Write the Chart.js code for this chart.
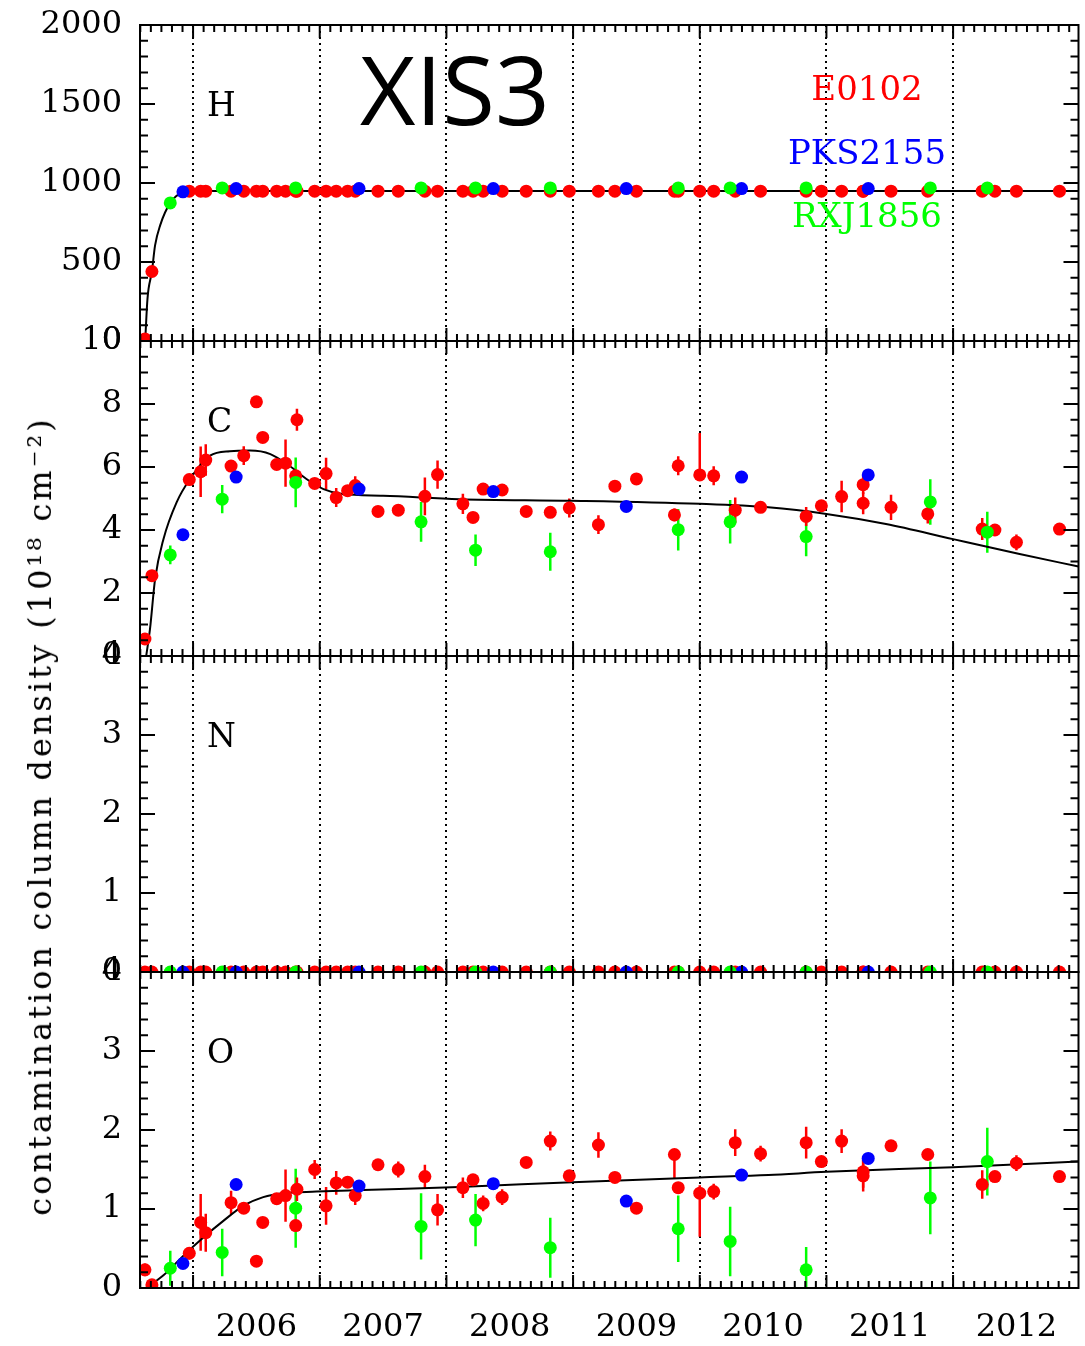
<!DOCTYPE html>
<html lang="en">
  <head>
    <meta charset="UTF-8" />
    <title>XIS3 contamination</title>
    <script src="https://cdn.jsdelivr.net/npm/chart.js"></script>
    <style>
      html,
      body {
        margin: 0;
        padding: 0;
        background: #fff;
        overflow: hidden;
      }
      body {
        position: relative;
        width: 1085px;
        height: 1346px;
        font-family: "DejaVu Serif", serif;
      }
      .painel {
        position: absolute;
        left: 0;
        width: 1085px;
      }
      .txt {
        position: absolute;
        white-space: nowrap;
        line-height: 1;
      }
      .letra {
        left: 207px;
        font-size: 33px;
        transform: translateY(-50%);
      }
      .fonte {
        left: 867px;
        font-size: 34px;
        transform: translate(-50%, -50%);
      }
    </style>
  </head>
  <body>
    <div class="painel" style="top: -5px; height: 376px"><canvas id="gH"></canvas></div>
    <div class="painel" style="top: 311px; height: 375px"><canvas id="gC"></canvas></div>
    <div class="painel" style="top: 626px; height: 376px"><canvas id="gN"></canvas></div>
    <div class="painel" style="top: 942px; height: 406px"><canvas id="gO"></canvas></div>

    <div class="txt" style="left: 360px; top: 88px; font-family: 'Open Sans'; font-size: 96px; transform: translateY(-50%)">XIS3</div>
    <div class="txt fonte" style="top: 88px; color: #ff0000">E0102</div>
    <div class="txt fonte" style="top: 152px; color: #0000ff">PKS2155</div>
    <div class="txt fonte" style="top: 215px; color: #00ff00">RXJ1856</div>

    <div class="txt letra" style="top: 104px">H</div>
    <div class="txt letra" style="top: 420px">C</div>
    <div class="txt letra" style="top: 735px">N</div>
    <div class="txt letra" style="top: 1051px">O</div>

    <div class="txt" style="left: 40px; top: 816px; font-size: 32px; letter-spacing: 3px; transform: translate(-50%, -50%) rotate(-90deg)">
      contamination column density (10¹⁸ cm⁻²)
    </div>

    <script>
      // eixo x (anos) - rótulos centrados no meio de cada ano
      const anosX = [2006.5, 2007.5, 2008.5, 2009.5, 2010.5, 2011.5, 2012.5];
      const rotulosX = ["2006", "2007", "2008", "2009", "2010", "2011", "2012"];

      // E0102 (vermelho)
      const e0102T = [2005.62, 2005.675, 2005.97, 2006.06, 2006.1, 2006.3, 2006.4, 2006.5, 2006.55, 2006.66, 2006.73, 2006.82, 2006.81, 2006.96, 2007.05, 2007.13, 2007.22, 2007.28, 2007.46, 2007.62, 2007.83, 2007.93, 2008.13, 2008.21, 2008.29, 2008.44, 2008.63, 2008.82, 2008.97, 2009.2, 2009.33, 2009.5, 2009.8, 2009.83, 2010.0, 2010.11, 2010.28, 2010.48, 2010.84, 2010.96, 2011.12, 2011.29, 2011.29, 2011.51, 2011.8, 2012.23, 2012.33, 2012.5, 2012.84];
      const e0102H = [13, 440, 948, 948, 948, 948, 948, 948, 948, 948, 948, 948, 948, 948, 948, 948, 948, 948, 948, 948, 948, 948, 948, 948, 948, 948, 948, 948, 948, 948, 948, 948, 948, 948, 948, 948, 948, 948, 948, 948, 948, 948, 948, 948, 948, 948, 948, 948, 948];
      const e0102C = [0.54, 2.55, 5.6, 5.85, 6.22, 6.03, 6.36, 8.07, 6.94, 6.08, 6.12, 7.5, 5.72, 5.48, 5.79, 5.03, 5.25, 5.41, 4.59, 4.63, 5.07, 5.76, 4.83, 4.4, 5.3, 5.27, 4.59, 4.56, 4.7, 4.17, 5.39, 5.62, 4.48, 6.04, 5.75, 5.72, 4.63, 4.72, 4.43, 4.77, 5.06, 5.44, 4.85, 4.72, 4.51, 4.03, 4.0, 3.61, 4.03];
      const e0102CErr = [0.15, 0.15, 0.1, 0.8, 0.5, 0.15, 0.3, 0.1, 0.1, 0.1, 0.75, 0.35, 0.1, 0.1, 0.5, 0.3, 0.1, 0.3, 0.1, 0.1, 0.6, 0.45, 0.32, 0.1, 0.1, 0.1, 0.1, 0.1, 0.3, 0.3, 0.1, 0.1, 0.2, 0.3, [0.1, 1.33], 0.3, 0.4, 0.1, 0.3, 0.1, 0.5, 0.3, 0.35, 0.4, 0.3, 0.35, 0.1, 0.25, 0.1];
      const e0102N = [0, 0, 0, 0, 0, 0, 0, 0, 0, 0, 0, 0, 0, 0, 0, 0, 0, 0, 0, 0, 0, 0, 0, 0, 0, 0, 0, 0, 0, 0, 0, 0, 0, 0, 0, 0, 0, 0, 0, 0, 0, 0, 0, 0, 0, 0, 0, 0, 0];
      const e0102O = [0.23, 0.04, 0.44, 0.83, 0.7, 1.08, 1.01, 0.34, 0.83, 1.13, 1.17, 1.25, 0.79, 1.5, 1.04, 1.33, 1.34, 1.17, 1.56, 1.5, 1.41, 0.99, 1.27, 1.37, 1.07, 1.15, 1.59, 1.86, 1.42, 1.81, 1.4, 1.01, 1.69, 1.27, 1.2, 1.22, 1.84, 1.7, 1.84, 1.6, 1.86, 1.47, 1.42, 1.8, 1.69, 1.31, 1.41, 1.58, 1.41];
      const e0102OErr = [0.08, 0.05, 0.08, 0.36, 0.24, 0.15, 0.05, 0.05, 0.05, 0.05, 0.33, 0.15, 0.05, 0.12, 0.24, 0.15, 0.05, 0.12, 0.05, 0.1, 0.15, 0.2, 0.13, 0.05, 0.1, 0.1, 0.05, 0.12, 0.05, 0.16, 0.05, 0.05, [0.3, 0.05], 0.05, [0.55, 0.1], 0.1, 0.17, 0.1, 0.2, 0.05, 0.15, 0.2, 0.2, 0.05, 0.05, 0.18, 0.05, 0.1, 0.05];

      // PKS2155 (azul)
      const pks2155T = [2005.92, 2006.34, 2007.31, 2008.37, 2009.42, 2010.33, 2011.33];
      const pks2155H = [944, 965, 965, 965, 965, 965, 965];
      const pks2155C = [3.85, 5.68, 5.3, 5.22, 4.75, 5.68, 5.75];
      const pks2155N = [0, 0, 0, 0, 0, 0, 0];
      const pks2155O = [0.31, 1.31, 1.29, 1.32, 1.1, 1.43, 1.64];

      // RXJ1856 (verde)
      const rxj1856T = [2005.82, 2006.23, 2006.81, 2007.8, 2008.23, 2008.82, 2009.83, 2010.24, 2010.84, 2011.82, 2012.27];
      const rxj1856H = [874, 969, 969, 969, 969, 969, 969, 969, 969, 969, 969];
      const rxj1856C = [3.21, 4.98, 5.51, 4.26, 3.36, 3.31, 4.01, 4.26, 3.79, 4.89, 3.93];
      const rxj1856CErr = [0.3, 0.45, 0.79, 0.63, 0.5, 0.6, 0.66, 0.69, 0.62, 0.72, 0.65];
      const rxj1856N = [0, 0, 0, 0, 0, 0, 0, 0, 0, 0, 0];
      const rxj1856O = [0.25, 0.45, 1.01, 0.78, 0.86, 0.51, 0.75, 0.59, 0.23, 1.14, 1.6];
      const rxj1856OErr = [0.22, 0.3, 0.5, 0.42, 0.33, 0.38, 0.42, 0.44, 0.29, 0.46, 0.43];

      // curvas do modelo (linha preta)
      const curvaHT = [2005.622, 2005.64, 2005.675, 2005.7, 2005.74, 2005.82, 2005.92, 2006.06, 2012.99];
      const curvaHV = [0, 267, 440, 605, 732, 874, 940, 950, 950];
      const curvaCT = [2005.63, 2005.66, 2005.7, 2005.766, 2005.87, 2005.976, 2006.134, 2006.29, 2006.45, 2006.61, 2006.76, 2006.895, 2007.03, 2007.18, 2007.5, 2008.1, 2008.99, 2010.0, 2010.54, 2011.0, 2011.47, 2012.0, 2012.525, 2012.99];
      const curvaCV = [0, 0.86, 2.44, 3.71, 4.88, 5.62, 6.36, 6.5, 6.52, 6.41, 6.04, 5.62, 5.3, 5.14, 5.09, 4.98, 4.93, 4.83, 4.72, 4.51, 4.19, 3.71, 3.24, 2.84];
      const curvaNT = [2005.581, 2012.99];
      const curvaNV = [0, 0];
      const curvaOT = [2005.65, 2005.766, 2005.924, 2006.081, 2006.239, 2006.396, 2006.554, 2006.711, 2006.974, 2007.341, 2008.102, 2008.994, 2010.0, 2010.543, 2011.0, 2012.0, 2012.99];
      const curvaOV = [0.02, 0.16, 0.41, 0.64, 0.85, 1.04, 1.15, 1.2, 1.22, 1.24, 1.28, 1.34, 1.4, 1.43, 1.47, 1.53, 1.6];

      const VERMELHO = "#ff0000";
      const AZUL = "#0000ff";
      const VERDE = "#00ff00";
      const fonteEixo = { family: "DejaVu Serif", size: 32 };

      function pontos(t, v) {
        return t.map((ti, i) => ({ x: ti, y: v[i] }));
      }

      // moldura, marcas internas, linhas pontilhadas e barras de erro
      const molduraPlugin = {
        id: "moldura",
        beforeDatasetsDraw(chart) {
          const { ctx, chartArea: a } = chart;
          const x = chart.scales.x;
          const y = chart.scales.y;
          ctx.save();
          ctx.beginPath();
          ctx.rect(a.left, a.top, a.width, a.height);
          ctx.clip();
          ctx.strokeStyle = "#000";
          ctx.lineWidth = 2;
          ctx.setLineDash([2, 4]);
          for (let ano = 2006; ano <= 2012; ano++) {
            const px = Math.round(x.getPixelForValue(ano));
            ctx.beginPath();
            ctx.moveTo(px, a.top);
            ctx.lineTo(px, a.bottom);
            ctx.stroke();
          }
          ctx.setLineDash([]);
          ctx.lineWidth = 2.5;
          chart.data.datasets.forEach((ds) => {
            if (!ds.erros) return;
            ctx.strokeStyle = ds.backgroundColor;
            ds.data.forEach((p, j) => {
              const e = ds.erros[j];
              const baixo = Array.isArray(e) ? e[0] : e;
              const cima = Array.isArray(e) ? e[1] : e;
              const px = x.getPixelForValue(p.x);
              ctx.beginPath();
              ctx.moveTo(px, y.getPixelForValue(p.y - baixo));
              ctx.lineTo(px, y.getPixelForValue(p.y + cima));
              ctx.stroke();
            });
          });
          ctx.restore();
        },
        afterDraw(chart, args, opts) {
          const { ctx, chartArea: a } = chart;
          const x = chart.scales.x;
          const y = chart.scales.y;
          ctx.save();
          ctx.strokeStyle = "#000";
          ctx.lineWidth = 2;
          ctx.strokeRect(a.left, a.top, a.width, a.height);
          ctx.beginPath();
          const n = Math.round((y.max - y.min) / opts.menor);
          const razao = Math.round(opts.maior / opts.menor);
          for (let k = 0; k <= n; k++) {
            const py = y.getPixelForValue(y.min + k * opts.menor);
            const L = k % razao === 0 ? 15 : 8;
            ctx.moveTo(a.left, py);
            ctx.lineTo(a.left + L, py);
            ctx.moveTo(a.right, py);
            ctx.lineTo(a.right - L, py);
          }
          for (let m = Math.ceil(x.min * 12); m <= Math.floor(x.max * 12); m++) {
            const px = x.getPixelForValue(m / 12);
            const L = m % 12 === 0 ? 13 : 7;
            ctx.moveTo(px, a.top);
            ctx.lineTo(px, a.top + L);
            ctx.moveTo(px, a.bottom);
            ctx.lineTo(px, a.bottom - L);
          }
          ctx.stroke();
          ctx.restore();
        },
      };

      function criarPainel(id, cfg) {
        const ctx = document.getElementById(id).getContext("2d");
        const ultimo = !!cfg.ultimo;
        const serie = (rotulo, cor, t, v, erros) => ({
          label: rotulo,
          data: pontos(t, v),
          backgroundColor: cor,
          borderColor: cor,
          pointRadius: 6.5,
          pointBorderWidth: 0,
          pointHoverRadius: 6.5,
          erros: erros,
        });
        return new Chart(ctx, {
          type: "scatter",
          data: {
            datasets: [
              serie("RXJ1856", VERDE, rxj1856T, cfg.verde, cfg.verdeErr),
              serie("PKS2155", AZUL, pks2155T, cfg.azul, null),
              serie("E0102", VERMELHO, e0102T, cfg.vermelho, cfg.vermelhoErr),
              {
                label: "modelo",
                data: pontos(cfg.curvaT, cfg.curvaV),
                showLine: true,
                borderColor: "#000",
                backgroundColor: "#000",
                borderWidth: 2,
                pointRadius: 0,
                cubicInterpolationMode: "monotone",
              },
            ],
          },
          options: {
            responsive: true,
            maintainAspectRatio: false,
            animation: false,
            events: [],
            layout: { padding: { top: 30, bottom: ultimo ? 0 : 30, left: 0, right: 2 } },
            plugins: {
              legend: { display: false },
              tooltip: { enabled: false },
              moldura: { maior: cfg.maior, menor: cfg.menor },
            },
            scales: {
              x: {
                type: "linear",
                min: 2005.581,
                max: 2012.99,
                display: ultimo,
                grid: { display: false, drawTicks: false },
                border: { display: false },
                afterBuildTicks: (s) => {
                  s.ticks = anosX.map((v) => ({ value: v }));
                },
                afterFit: (s) => {
                  if (ultimo) s.height = 60;
                  s.paddingLeft = 0;
                  s.paddingRight = 0;
                },
                ticks: {
                  autoSkip: false,
                  maxRotation: 0,
                  padding: 20,
                  color: "#000",
                  font: fonteEixo,
                  callback: (v, i) => rotulosX[i],
                },
              },
              y: {
                type: "linear",
                min: cfg.min,
                max: cfg.max,
                grid: { display: false, drawTicks: false },
                border: { display: false },
                afterFit: (s) => {
                  s.width = 140;
                  s.paddingTop = 0;
                  s.paddingBottom = 0;
                },
                ticks: {
                  stepSize: cfg.maior,
                  padding: 18,
                  color: "#000",
                  font: fonteEixo,
                  callback: (v) => String(v),
                },
              },
            },
          },
          plugins: [molduraPlugin],
        });
      }

      criarPainel("gH", {
        min: 0, max: 2000, maior: 500, menor: 100,
        vermelho: e0102H, azul: pks2155H, verde: rxj1856H,
        curvaT: curvaHT, curvaV: curvaHV,
      });
      criarPainel("gC", {
        min: 0, max: 10, maior: 2, menor: 0.5,
        vermelho: e0102C, vermelhoErr: e0102CErr, azul: pks2155C, verde: rxj1856C, verdeErr: rxj1856CErr,
        curvaT: curvaCT, curvaV: curvaCV,
      });
      criarPainel("gN", {
        min: 0, max: 4, maior: 1, menor: 0.2,
        vermelho: e0102N, azul: pks2155N, verde: rxj1856N,
        curvaT: curvaNT, curvaV: curvaNV,
      });
      criarPainel("gO", {
        min: 0, max: 4, maior: 1, menor: 0.2, ultimo: true,
        vermelho: e0102O, vermelhoErr: e0102OErr, azul: pks2155O, verde: rxj1856O, verdeErr: rxj1856OErr,
        curvaT: curvaOT, curvaV: curvaOV,
      });
    </script>
  </body>
</html>
